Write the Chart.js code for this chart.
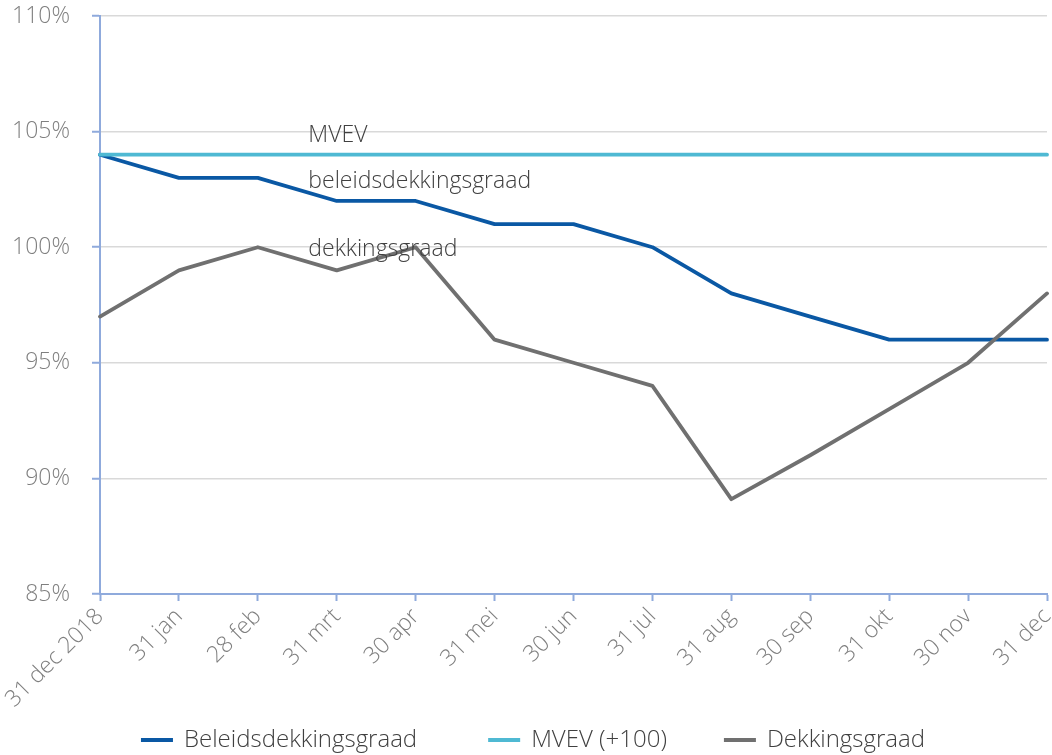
<!DOCTYPE html>
<html>
<head>
<meta charset="utf-8">
<script src="https://cdn.jsdelivr.net/npm/chart.js@4"></script>
<style>
  html, body { margin: 0; padding: 0; background: #fff; }
  #wrap { width: 1052px; height: 755px; }
</style>
</head>
<body>
<div id="wrap"><canvas id="chart" width="1052" height="755"></canvas></div>
<script>
// labels van de x-as
const categories = ["31 dec 2018", "31 jan", "28 feb", "31 mrt", "30 apr", "31 mei", "30 jun",
  "31 jul", "31 aug", "30 sep", "31 okt", "30 nov", "31 dec"];

// reeksen (in %)
const beleidsdekkingsgraad = [104, 103, 103, 102, 102, 101, 101, 100, 98, 97, 96, 96, 96];
const mvev = [104, 104, 104, 104, 104, 104, 104, 104, 104, 104, 104, 104, 104];
const dekkingsgraad = [97, 99, 100, 99, 100, 96, 95, 94, 89.1, 91, 93, 95, 98];

const seriesNames = ["Beleidsdekkingsgraad", "MVEV (+100)", "Dekkingsgraad"];
const seriesColors = ["#0A58A4", "#4FB9D3", "#707070"];
const yTicks = [85, 90, 95, 100, 105, 110];

// tekstlabels in de grafiek
const annotTexts = ["MVEV", "beleidsdekkingsgraad", "dekkingsgraad"];
const annotValues = [104.85, 102.85, 99.9];
const annotIndex = 2.64;

const fontFamily = "'Open Sans', 'Noto Sans', sans-serif";
const axisBlue = "#8FAADC";

// teksten in het plot
const annotPlugin = {
  id: "annot",
  afterDatasetsDraw(chart) {
    const ctx = chart.ctx;
    const x = chart.scales.x;
    const y = chart.scales.y;
    ctx.save();
    ctx.font = "300 23px " + fontFamily;
    ctx.fillStyle = "#404040";
    ctx.textAlign = "left";
    ctx.textBaseline = "middle";
    annotTexts.forEach((t, i) => {
      ctx.fillText(t, x.getPixelForValue(annotIndex), y.getPixelForValue(annotValues[i]));
    });
    ctx.restore();
  }
};

// legenda onderaan, zelf getekend zodat de afstanden kloppen
const legendPlugin = {
  id: "bottomLegend",
  afterDraw(chart) {
    const ctx = chart.ctx;
    const lineW = 32, textGap = 11;
    const gaps = [71, 57];
    const cy = 740;
    ctx.save();
    ctx.font = "300 24px " + fontFamily;
    ctx.textBaseline = "middle";
    ctx.textAlign = "left";
    const widths = chart.data.datasets.map(ds => lineW + textGap + ctx.measureText(ds.label).width);
    const total = widths.reduce((a, b) => a + b, 0) + gaps.reduce((a, b) => a + b, 0);
    let x = chart.width / 2 + 7 - total / 2;
    chart.data.datasets.forEach((ds, i) => {
      ctx.strokeStyle = ds.borderColor;
      ctx.lineWidth = 4;
      ctx.beginPath();
      ctx.moveTo(x, cy);
      ctx.lineTo(x + lineW, cy);
      ctx.stroke();
      ctx.fillStyle = "#404040";
      ctx.fillText(ds.label, x + lineW + textGap, cy);
      x += widths[i] + (gaps[i] || 0);
    });
    ctx.restore();
  }
};

new Chart(document.getElementById("chart"), {
  type: "line",
  data: {
    labels: categories,
    datasets: [
      { label: seriesNames[0], data: beleidsdekkingsgraad, borderColor: seriesColors[0], order: 3 },
      { label: seriesNames[1], data: mvev, borderColor: seriesColors[1], order: 2 },
      { label: seriesNames[2], data: dekkingsgraad, borderColor: seriesColors[2], order: 1 }
    ]
  },
  options: {
    responsive: false,
    animation: false,
    layout: { padding: { top: 16, right: 5, left: 0, bottom: 0 } },
    elements: {
      line: { borderWidth: 3.8, tension: 0, borderCapStyle: "round", borderJoinStyle: "round" },
      point: { radius: 0, hoverRadius: 0 }
    },
    plugins: {
      tooltip: { enabled: false },
      legend: { display: false }
    },
    scales: {
      x: {
        offset: false,
        grid: { drawOnChartArea: false, drawTicks: true, tickLength: 7, tickColor: axisBlue, tickWidth: 2 },
        border: { color: axisBlue, width: 2 },
        ticks: {
          color: "#7F7F7F",
          font: { family: fontFamily, size: 23, weight: "300" },
          maxRotation: 45,
          minRotation: 45,
          autoSkip: false,
          padding: 2
        },
        afterFit(scale) {
          scale.height = 161;
          scale.paddingLeft = 0;
          scale.paddingRight = 0;
        }
      },
      y: {
        min: 85,
        max: 110,
        afterBuildTicks(scale) { scale.ticks = yTicks.map(v => ({ value: v })); },
        grid: { color: "#D9D9D9", lineWidth: 1.5, drawTicks: true, tickLength: 8, tickColor: axisBlue, tickWidth: 2 },
        border: { color: axisBlue, width: 2 },
        ticks: {
          color: "#7F7F7F",
          font: { family: fontFamily, size: 23, weight: "300" },
          padding: 22,
          callback: v => v + "%"
        },
        afterFit(scale) {
          scale.width = 100;
          scale.paddingTop = 0;
          scale.paddingBottom = 0;
        }
      }
    }
  },
  plugins: [annotPlugin, legendPlugin]
});
</script>
</body>
</html>
